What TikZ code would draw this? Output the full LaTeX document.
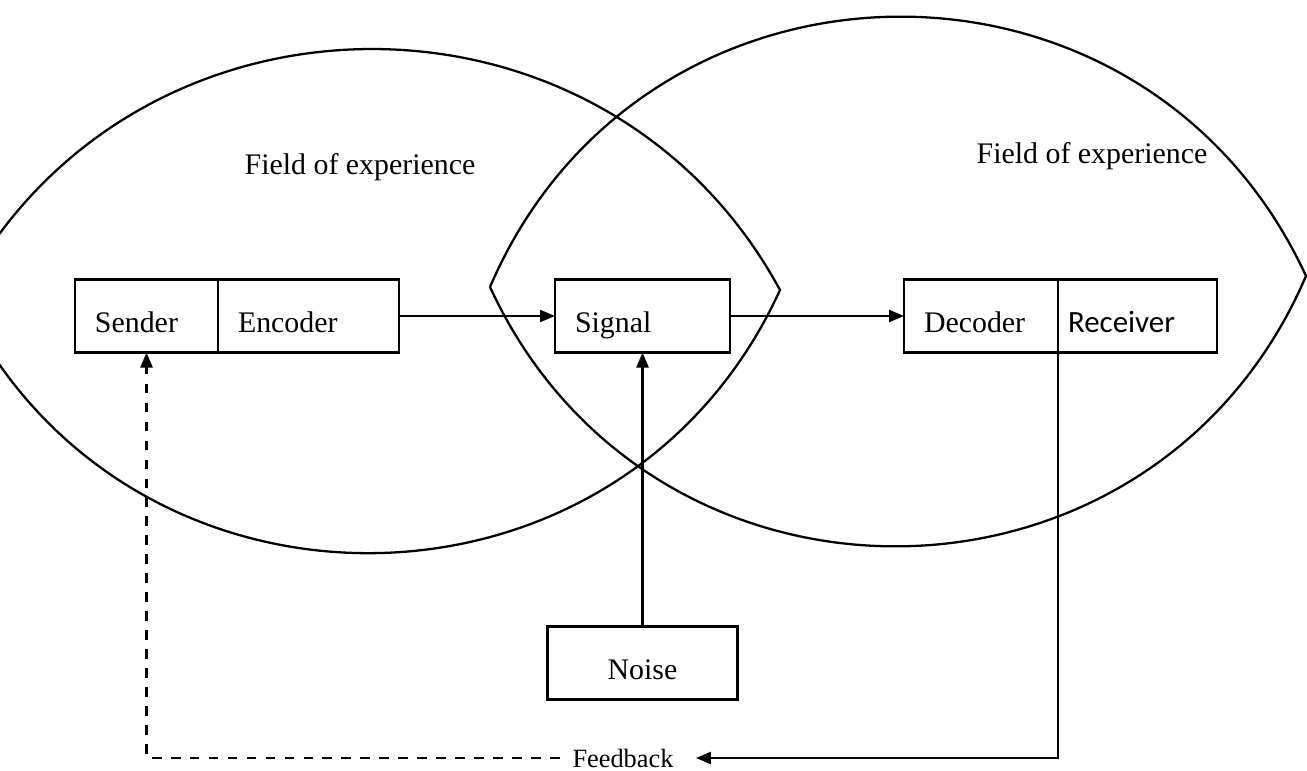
\documentclass[tikz,border=0pt]{standalone}
\usepackage{fontspec}
\setmainfont{Liberation Serif}
\newfontfamily\recfont{Carlito}
\usetikzlibrary{arrows.meta,positioning}
\tikzset{
    cell/.style = {draw, line width = 0.65pt, outer sep = 0pt, minimum height = 0.73cm, inner xsep = 0.2cm,
        text height = 0.32cm, text depth = 0cm, align = left},
    link/.style = {line width = 0.65pt, -{Triangle[length = 1.5mm, width = 1.2mm]}}
}
\begin{document}
\begin{tikzpicture}[font = \fontsize{8.5}{10}\selectfont]
                \useasboundingbox (0,0) rectangle (13.07,7.7);
                \clip (0,0) rectangle (13.07,7.7);
                \begin{scope}[line width = 0.65pt]
                    \coordinate (a1) at (-0.40,4.73);
                    \coordinate (a2) at (7.80,4.80);
                    \coordinate (b1) at (4.90,4.83);
                    \coordinate (b2) at (13.06,4.94);
                    \draw (a1) to[bend left = 62, looseness = 1.15] (a2) to[bend left = 65, looseness = 1.19] (a1);
                    \draw (b1) to[bend left = 66, looseness = 1.21] (b2) to[bend left = 66, looseness = 1.21] (b1);
                \end{scope}
                \node (fieldleft) at (3.60,6.03) {Field of experience};
                \node (fieldright) at (10.92,6.14) {Field of experience};
                \node[cell, text width = 1.03cm] (sender) at (1.465,4.54) {Sender};
                \node[cell, text width = 1.41cm, right = 0pt of sender] (encoder) {Encoder};
                \node[cell, text width = 1.35cm] (signal) at (6.425,4.54) {Signal};
                \node[cell, text width = 1.14cm] (decoder) at (9.81,4.54) {Decoder};
                \node[cell, text width = 1.39cm, inner xsep = 0.1cm, right = 0pt of decoder,
                    font = \recfont\fontsize{8.8}{10}\selectfont] (receiver) {Receiver};
                \node[cell, text width = 1.50cm, align = center] (noise) at (6.425,1.07) {Noise};
                \node[font = \fontsize{7.5}{9}\selectfont] (feedback) at (6.23,0.12) {Feedback};
                \draw[link] (encoder) -- (signal);
                \draw[link] (signal) -- (decoder);
                \draw[link] (noise) -- (signal);
                \draw[link] (decoder.south east) |- ([xshift = 0.1cm]feedback.east);
                \draw[link, dash pattern = on 2.8pt off 2.6pt] (feedback.west) -| (sender.south);
            \end{tikzpicture}
\end{document}
